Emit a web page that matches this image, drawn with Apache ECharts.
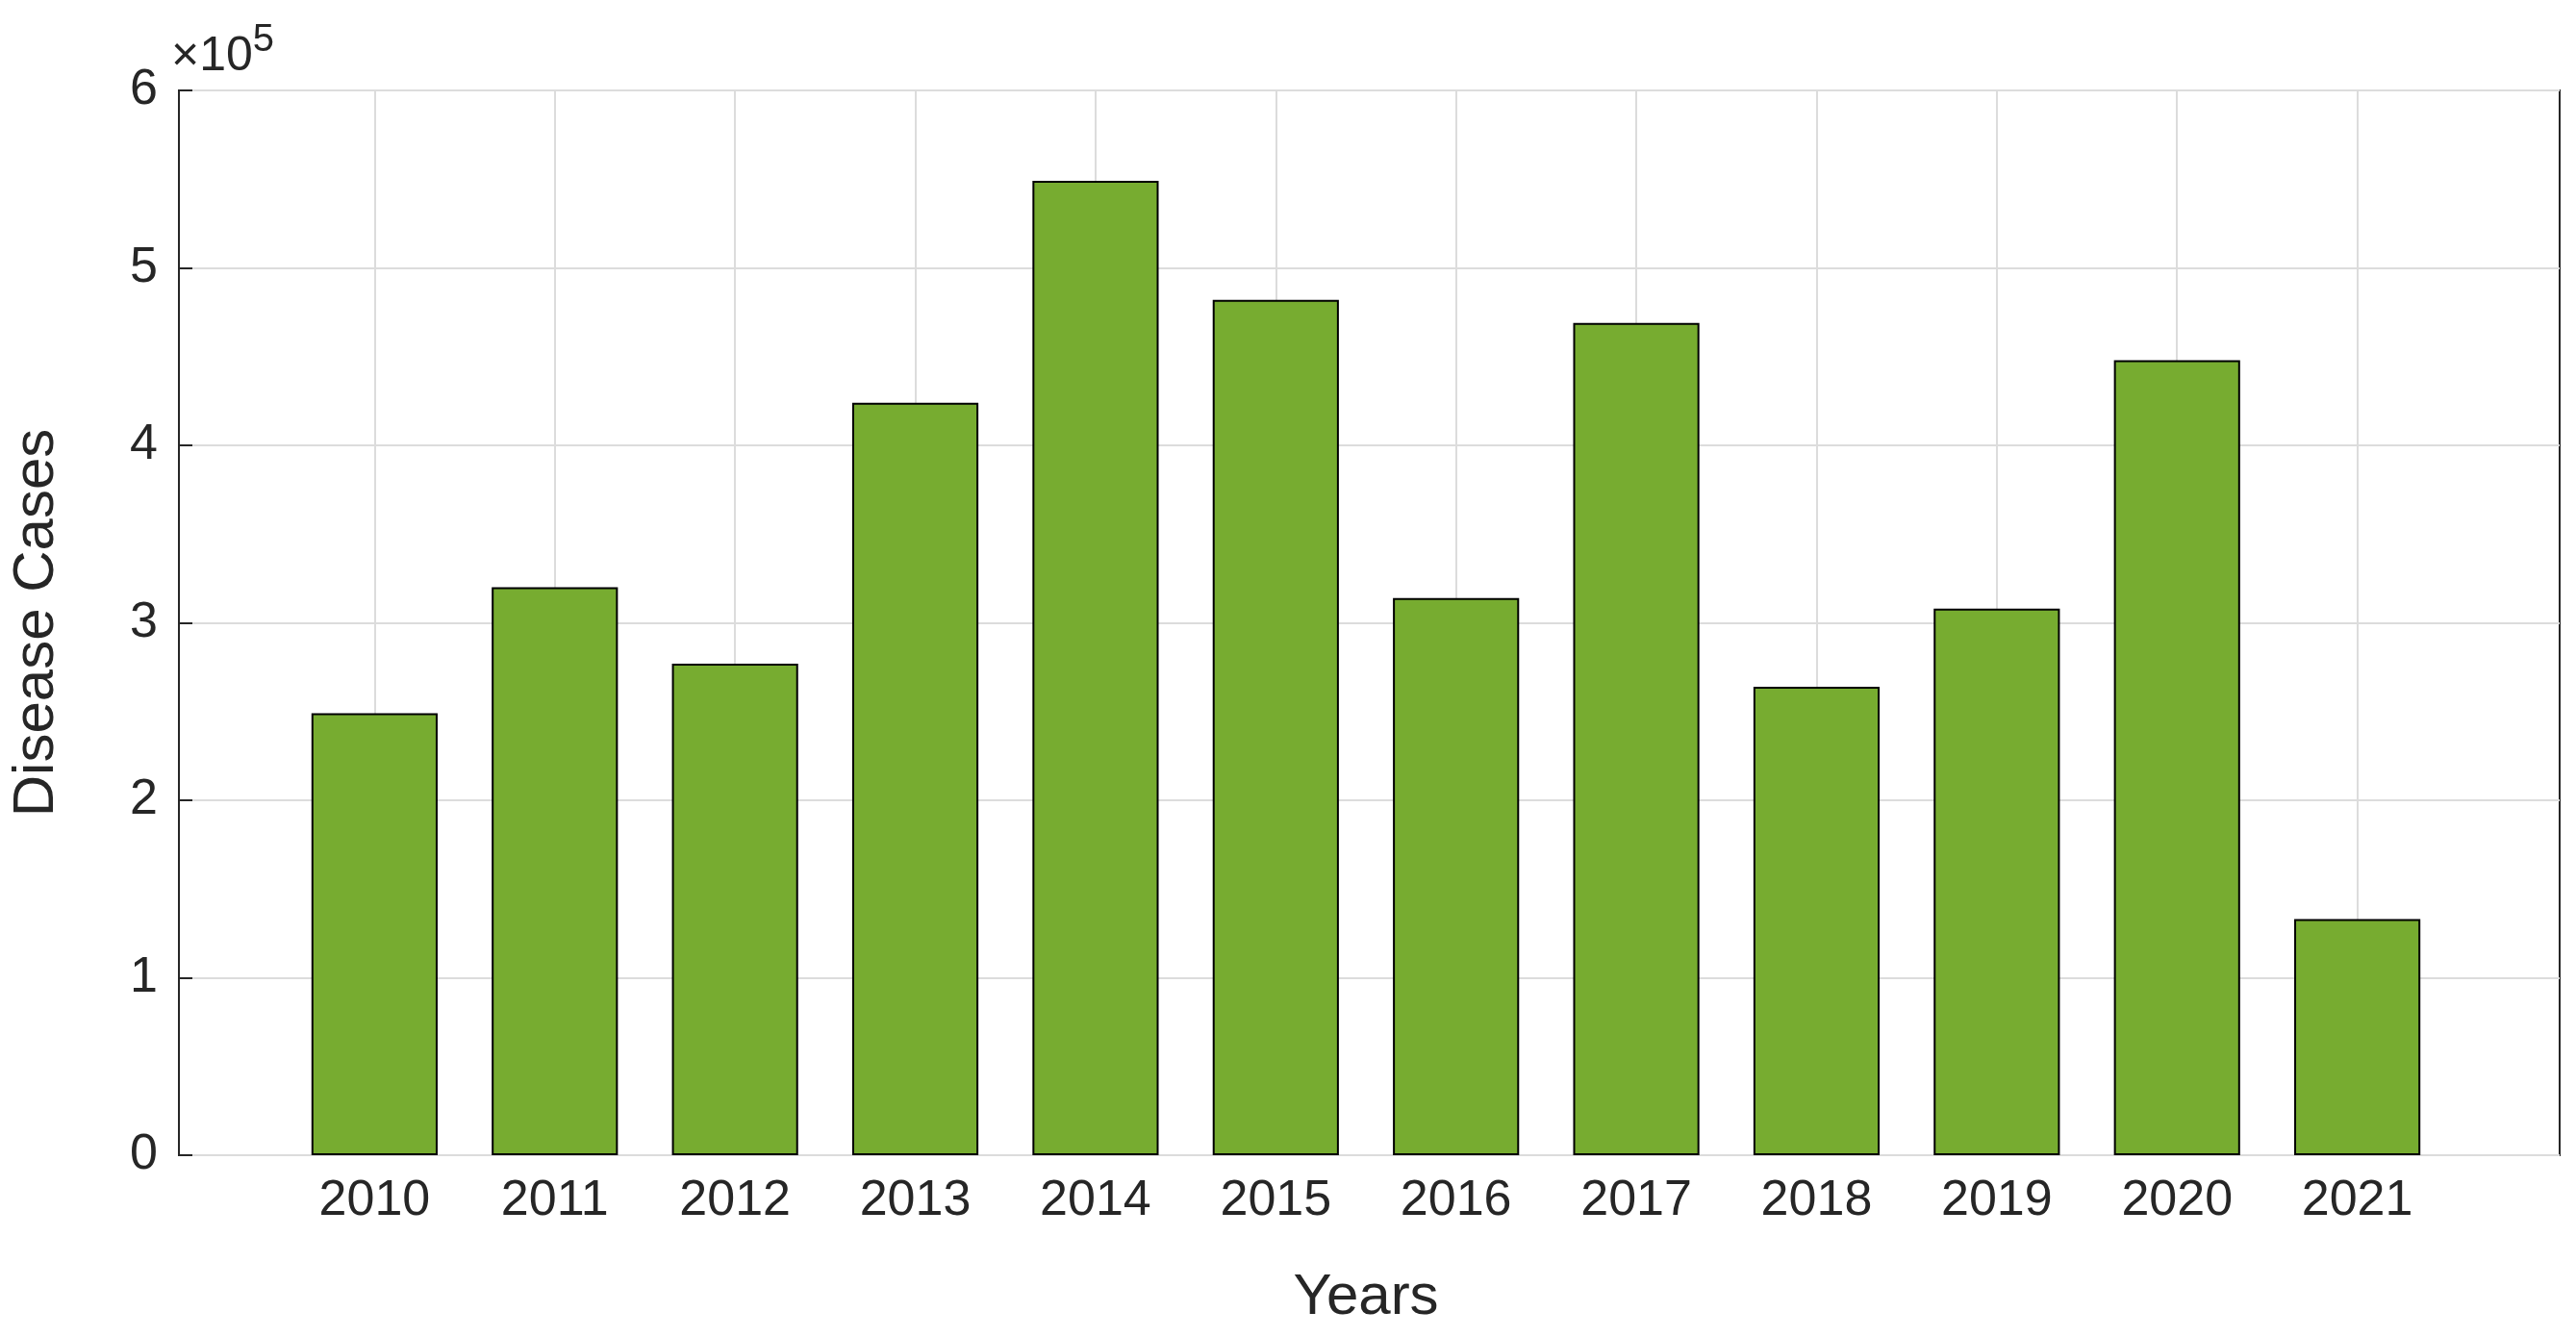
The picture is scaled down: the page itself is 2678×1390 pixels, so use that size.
<!DOCTYPE html>
<html><head><meta charset="utf-8">
<script src="https://cdn.jsdelivr.net/npm/echarts@6/dist/echarts.min.js"></script>
<style>html,body{margin:0;padding:0;background:#fff}#c{width:2678px;height:1390px}</style>
</head><body><div id="c"></div>
<script>
const categories = ['', '2010','2011','2012','2013','2014','2015','2016','2017','2018','2019','2020','2021', ''];
const cases = [null, 249000, 320000, 277000, 424000, 549000, 482000, 314000, 469000, 264000, 308000, 448000, 133000, null];
const yTicks = [0, 1, 2, 3, 4, 5, 6];

const txt = '#262626';
const font = 'Liberation Sans, Arial, sans-serif';
const chart = echarts.init(document.getElementById('c'));
chart.setOption({
  animation: false,
  grid: [
    {left: 171, right: 17, top: 94, height: 1107, show: true, borderColor: '#262626', borderWidth: 2, backgroundColor: 'transparent'},
    {left: 202, right: 40, top: 94, height: 1107}
  ],
  xAxis: [
    {gridIndex: 0, type: 'value', min: 0, max: 1, show: false},
    {gridIndex: 1, type: 'category', data: categories, boundaryGap: false,
     name: 'Years', nameLocation: 'middle', nameGap: 118,
     nameTextStyle: {fontSize: 60, color: txt, fontFamily: font},
     axisLine: {show: false},
     axisTick: {inside: true, length: 14, lineStyle: {color: '#262626', width: 2}, interval: (i) => i > 0 && i < categories.length - 1},
     axisLabel: {fontSize: 52, color: txt, fontFamily: font, margin: 22, interval: 0},
     splitLine: {show: true, interval: (i) => i > 0 && i < categories.length - 1, lineStyle: {color: '#dcdcdc', width: 2}}}
  ],
  yAxis: [
    {gridIndex: 0, type: 'value', min: 0, max: 600000, interval: 100000,
     name: 'Disease Cases', nameLocation: 'middle', nameGap: 118,
     nameTextStyle: {fontSize: 60, color: txt, fontFamily: font},
     axisLine: {show: false},
     axisTick: {show: true, inside: true, length: 14, lineStyle: {color: '#262626', width: 2}},
     axisLabel: {fontSize: 52, color: txt, fontFamily: font, margin: 22,
       formatter: (v) => String(yTicks[Math.round(v / 100000)])},
     splitLine: {show: true, lineStyle: {color: '#dcdcdc', width: 2}}},
    {gridIndex: 1, type: 'value', min: 0, max: 600000, interval: 100000, show: false}
  ],
  series: [{
    type: 'bar', xAxisIndex: 1, yAxisIndex: 1, data: cases, barWidth: '70%',
    itemStyle: {color: '#77AC30', borderColor: '#000', borderWidth: 2}
  }],
  graphic: [{
    type: 'text', left: 178, top: 22,
    style: {text: '{a|×10}{b|5}', rich: {
      a: {fontSize: 50, fill: txt, fontFamily: font, verticalAlign: 'bottom'},
      b: {fontSize: 40, fill: txt, fontFamily: font, verticalAlign: 'top', padding: [0,0,22,0]}}}
  }]
});
</script></body></html>
